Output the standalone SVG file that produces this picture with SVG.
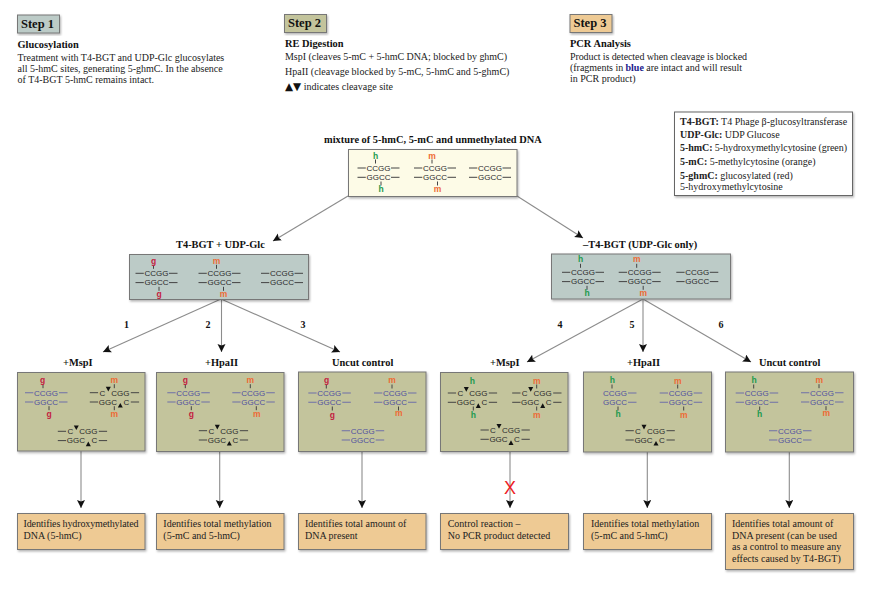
<svg xmlns="http://www.w3.org/2000/svg" width="875" height="593" viewBox="0 0 875 593">
<style>
text{font-family:"Liberation Serif","Times New Roman",serif;fill:#222}
.b{font-weight:bold}
.t{font-size:10px}
.h{font-size:10.400px;font-weight:bold;fill:#111}
.st{font-size:12.500px;font-weight:bold;fill:#111}
.n{font-size:10px;font-weight:bold;text-anchor:middle;fill:#111}
.box{stroke:#777;stroke-width:1;filter:url(#sh)}
.teal{fill:#bccbc7}.ol{fill:#c3c49c}.or{fill:#eeca94}.cr{fill:#fdfbe7}
.sq{font-family:"Liberation Sans",Arial,sans-serif;font-size:8px;fill:#2a2a2a;text-anchor:middle}
.sb{font-family:"Liberation Sans",Arial,sans-serif;font-size:8px;fill:#5050a0;text-anchor:middle}
.md{font-family:"Liberation Sans",Arial,sans-serif;font-size:8.500px;font-weight:bold;text-anchor:middle}
.gn{fill:#1d9a4e}.om{fill:#ee6a33}.rd{fill:#c4203f}
.ln{stroke:#444;stroke-width:1;fill:none}
.lb{stroke:#6f6fa8;stroke-width:1.100;fill:none}
.c{stroke:#8c8c8c;stroke-width:1.100;fill:none;marker-end:url(#ah)}
</style>
<defs>
<filter id="sh" x="-5%" y="-10%" width="112%" height="125%"><feDropShadow dx="1" dy="1.500" stdDeviation="1.200" flood-color="#000" flood-opacity=".3"/></filter>
<marker id="ah" markerUnits="userSpaceOnUse" markerWidth="9" markerHeight="9" refX="8" refY="4" orient="auto"><path d="M0 0L8 4L0 8L1.500 4z" fill="#111"/></marker>
<polygon id="dn" points="-2.500,-2.400 2.500,-2.400 0,2.200" fill="#111"/>
<polygon id="up" points="-2.500,2.400 2.500,2.400 0,-2.200" fill="#111"/>
</defs>

<g id="connectors">
<path class="c" d="M348 196L273 241"/>
<path class="c" d="M517 196L583 238"/>
<path class="c" d="M221 299L103 352"/>
<path class="c" d="M221.500 299V352"/>
<path class="c" d="M221 299L340 352"/>
<path class="c" d="M643 299L527 362"/>
<path class="c" d="M643 299V352"/>
<path class="c" d="M643 299L751 362"/>
<path class="c" d="M81 451V508"/>
<path class="c" d="M219.700 452V508"/>
<path class="c" d="M362 452V508"/>
<path class="c" d="M510 452V508"/>
<path class="c" d="M647.300 452V508"/>
<path class="c" d="M789.300 452V508"/>
</g>

<g id="step1"><rect class="box teal" x="17.500" y="15" width="42" height="18"/><text class="st" x="21" y="27.500">Step 1</text>
<text class="h" x="17.500" y="47.500">Glucosylation</text>
<text class="t" x="17.500" y="61">Treatment with T4-BGT and UDP-Glc glucosylates</text>
<text class="t" x="17.500" y="72">all 5-hmC sites, generating 5-ghmC. In the absence</text>
<text class="t" x="17.500" y="83">of  T4-BGT 5-hmC remains intact.</text></g>

<g id="step2"><rect class="box ol" x="284.500" y="14.500" width="42" height="18"/><text class="st" x="288" y="27">Step 2</text>
<text class="h" x="285" y="47">RE Digestion</text>
<text class="t" x="285" y="60" textLength="222">MspI (cleaves 5-mC + 5-hmC DNA; blocked by ghmC)</text>
<text class="t" x="285" y="75">HpaII (cleavage blocked by 5-mC, 5-hmC and 5-ghmC)</text>
<text class="t" x="285" y="90"><tspan font-family="'DejaVu Sans',sans-serif" font-size="10.500px" fill="#111">▲▼</tspan> indicates cleavage site</text></g>

<g id="step3"><rect class="box or" x="570" y="14.500" width="42" height="18"/><text class="st" x="573.500" y="27">Step 3</text>
<text class="h" x="570" y="47">PCR Analysis</text>
<text class="t" x="570" y="60" textLength="177">Product is detected when cleavage is blocked</text>
<text class="t" x="570" y="71" textLength="172">(fragments in <tspan font-weight="bold" fill="#1a1a8c">blue</tspan> are intact and will result</text>
<text class="t" x="570" y="82">in PCR product)</text></g>

<g id="legend"><rect x="674.500" y="112" width="178" height="83.500" fill="#fff" stroke="#666" stroke-width="1" filter="url(#sh)"/>
<text class="t" x="680" y="125"><tspan class="b">T4-BGT:</tspan> T4 Phage β-glucosyltransferase</text>
<text class="t" x="680" y="138"><tspan class="b">UDP-Glc:</tspan> UDP Glucose</text>
<text class="t" x="680" y="151" textLength="167"><tspan class="b">5-hmC:</tspan> 5-hydroxymethylcytosine (green)</text>
<text class="t" x="680" y="165"><tspan class="b">5-mC:</tspan> 5-methylcytosine (orange)</text>
<text class="t" x="680" y="179"><tspan class="b">5-ghmC:</tspan> glucosylated (red)</text>
<text class="t" x="680" y="190">5-hydroxymethylcytosine</text></g>

<g id="mixture"><text class="h" x="324" y="142.500">mixture of 5-hmC, 5-mC and unmethylated DNA</text>
<rect class="box cr" x="348.500" y="149.500" width="168.500" height="47"/>
<g transform="translate(378.500,168)"><path class="ln" d="M-21 0h8.300M12.500 0h8.500M-21 9.300h8.300M12.500 9.300h8.500M-3 -8.500v4M2.500 13.500v4"/><text class="sq" y="2.800">CCGG</text><text class="sq" y="12.100">GGCC</text><text class="md gn" x="-3" y="-9.500">h</text><text class="md gn" x="2.500" y="24">h</text></g>
<g transform="translate(435,168)"><path class="ln" d="M-21 0h8.300M12.500 0h8.500M-21 9.300h8.300M12.500 9.300h8.500M-3 -8.500v4M2.500 13.500v4"/><text class="sq" y="2.800">CCGG</text><text class="sq" y="12.100">GGCC</text><text class="md om" x="-3" y="-9.500">m</text><text class="md om" x="2.500" y="24">m</text></g>
<g transform="translate(490,168)"><path class="ln" d="M-21 0h8.300M12.500 0h8.500M-21 9.300h8.300M12.500 9.300h8.500"/><text class="sq" y="2.800">CCGG</text><text class="sq" y="12.100">GGCC</text></g></g>

<g id="teal-left"><text class="h" x="176" y="248">T4-BGT + UDP-Glc</text>
<rect class="box teal" x="129.500" y="254.500" width="179" height="45"/>
<g transform="translate(156.500,273.300)"><path class="ln" d="M-21 0h8.300M12.500 0h8.500M-21 9.300h8.300M12.500 9.300h8.500M-3 -8.500v4M2.500 13.500v4"/><text class="sq" y="2.800">CCGG</text><text class="sq" y="12.100">GGCC</text><text class="md rd" x="-3" y="-9.500">g</text><text class="md rd" x="2.500" y="24">g</text></g>
<g transform="translate(219.500,273.300)"><path class="ln" d="M-21 0h8.300M12.500 0h8.500M-21 9.300h8.300M12.500 9.300h8.500M-3 -8.500v4M4 13.500v4"/><text class="sq" y="2.800">CCGG</text><text class="sq" y="12.100">GGCC</text><text class="md om" x="-3" y="-9.500">m</text><text class="md om" x="4" y="24">m</text></g>
<g transform="translate(282,273.300)"><path class="ln" d="M-21 0h8.300M12.500 0h8.500M-21 9.300h8.300M12.500 9.300h8.500"/><text class="sq" y="2.800">CCGG</text><text class="sq" y="12.100">GGCC</text></g></g>

<g id="teal-right"><text class="h" x="583" y="248">–T4-BGT (UDP-Glc only)</text>
<rect class="box teal" x="551.500" y="254" width="179" height="45"/>
<g transform="translate(583,272.300)"><path class="ln" d="M-21 0h8.300M12.500 0h8.500M-21 9.300h8.300M12.500 9.300h8.500M-2.500 -8.500v4M4 13.500v4"/><text class="sq" y="2.800">CCGG</text><text class="sq" y="12.100">GGCC</text><text class="md gn" x="-2.500" y="-10">h</text><text class="md gn" x="4" y="24">h</text></g>
<g transform="translate(639.700,272.300)"><path class="ln" d="M-21 0h8.300M12.500 0h8.500M-21 9.300h8.300M12.500 9.300h8.500M-3 -8.500v4M3.500 13.500v4"/><text class="sq" y="2.800">CCGG</text><text class="sq" y="12.100">GGCC</text><text class="md om" x="-3" y="-10">m</text><text class="md om" x="3.500" y="24">m</text></g>
<g transform="translate(697.300,272.300)"><path class="ln" d="M-21 0h8.300M12.500 0h8.500M-21 9.300h8.300M12.500 9.300h8.500"/><text class="sq" y="2.800">CCGG</text><text class="sq" y="12.100">GGCC</text></g></g>

<g id="numbers"><text class="n" x="126.500" y="328">1</text><text class="n" x="208" y="328">2</text><text class="n" x="303" y="328">3</text><text class="n" x="560" y="328">4</text><text class="n" x="632" y="328">5</text><text class="n" x="721" y="328">6</text></g>

<g id="digest1"><text class="h" x="63" y="366">+MspI</text>
<rect class="box ol" x="17.500" y="372.500" width="127.500" height="78.500"/>
<g transform="translate(46,392.700)"><path class="lb" d="M-21 0h8.300M13 0h8.500M-21 9.300h8.300M13 9.300h8.500"/><path class="ln" d="M-3 -8.500v4M3 13.500v4"/><text class="sb" y="2.800">CCGG</text><text class="sb" y="12.100">GGCC</text><text class="md rd" x="-3.300" y="-9.500">g</text><text class="md rd" x="3" y="24">g</text></g>
<g transform="translate(114.300,392.700)"><path class="ln" d="M-24.500 0h8.300M16.500 0h8.300M-24.500 9.300h8.300M16.500 9.300h8.300M0 -8.500v4M0 13.500v4"/><text class="sq" x="-12" y="2.800">C</text><text class="sq" x="6" y="2.800">CGG</text><text class="sq" x="-6.500" y="12.100">GGC</text><text class="sq" x="12" y="12.100">C</text><use href="#dn" x="-6" y="-3.500"/><use href="#up" x="6" y="12.500"/><text class="md om" y="-9.500">m</text><text class="md om" y="24">m</text></g>
<g transform="translate(82.300,431.300)"><path class="ln" d="M-24.500 0h8.300M16.500 0h8.300M-24.500 9.300h8.300M16.500 9.300h8.300"/><text class="sq" x="-12" y="2.800">C</text><text class="sq" x="6" y="2.800">CGG</text><text class="sq" x="-6.500" y="12.100">GGC</text><text class="sq" x="12" y="12.100">C</text><use href="#dn" x="-6" y="-3.500"/><use href="#up" x="6" y="12.500"/></g></g>

<g id="digest2"><text class="h" x="205" y="366">+HpaII</text>
<rect class="box ol" x="156.500" y="372.500" width="127.500" height="79"/>
<g transform="translate(188.300,392.700)"><path class="lb" d="M-21 0h8.300M13 0h8.500M-21 9.300h8.300M13 9.300h8.500"/><path class="ln" d="M-3 -8.500v4M3 13.500v4"/><text class="sb" y="2.800">CCGG</text><text class="sb" y="12.100">GGCC</text><text class="md rd" x="-3" y="-9.500">g</text><text class="md rd" x="3" y="24">g</text></g>
<g transform="translate(253.300,392.700)"><path class="lb" d="M-21 0h8.300M13 0h8.500M-21 9.300h8.300M13 9.300h8.500"/><path class="ln" d="M-3 -8.500v4M3 13.500v4"/><text class="sb" y="2.800">CCGG</text><text class="sb" y="12.100">GGCC</text><text class="md om" x="-3" y="-9.500">m</text><text class="md om" x="3.400" y="24">m</text></g>
<g transform="translate(223.300,430.700)"><path class="ln" d="M-24.500 0h8.300M16.500 0h8.300M-24.500 9.300h8.300M16.500 9.300h8.300"/><text class="sq" x="-12" y="2.800">C</text><text class="sq" x="6" y="2.800">CGG</text><text class="sq" x="-6.500" y="12.100">GGC</text><text class="sq" x="12" y="12.100">C</text><use href="#dn" x="-6" y="-3.500"/><use href="#up" x="6" y="12.500"/></g></g>

<g id="digest3"><text class="h" x="332" y="366">Uncut control</text>
<rect class="box ol" x="298.500" y="372" width="127.500" height="79.500"/>
<g transform="translate(329.300,393)"><path class="lb" d="M-21 0h8.300M13 0h8.500M-21 9.300h8.300M13 9.300h8.500"/><path class="ln" d="M-3 -8.500v4M3 13.500v4"/><text class="sb" y="2.800">CCGG</text><text class="sb" y="12.100">GGCC</text><text class="md rd" x="-2.700" y="-10">g</text><text class="md rd" x="3" y="24.500">g</text></g>
<g transform="translate(395,393)"><path class="lb" d="M-21 0h8.300M13 0h8.500M-21 9.300h8.300M13 9.300h8.500"/><path class="ln" d="M-3 -8.500v4M3.500 13.500v4"/><text class="sb" y="2.800">CCGG</text><text class="sb" y="12.100">GGCC</text><text class="md om" x="-3" y="-10">m</text><text class="md om" x="3.700" y="23">m</text></g>
<g transform="translate(362.700,430.700)"><path class="lb" d="M-21 0h8.300M13 0h8.500M-21 9.300h8.300M13 9.300h8.500"/><text class="sb" y="2.800">CCGG</text><text class="sb" y="12.100">GGCC</text></g></g>

<g id="digest4"><text class="h" x="490" y="366">+MspI</text>
<rect class="box ol" x="440.500" y="372.500" width="127.500" height="79"/>
<g transform="translate(472.300,393)"><path class="ln" d="M-24.500 0h8.300M16.500 0h8.300M-24.500 9.300h8.300M16.500 9.300h8.300M1 13.500v4"/><text class="sq" x="-12" y="2.800">C</text><text class="sq" x="6" y="2.800">CGG</text><text class="sq" x="-6.500" y="12.100">GGC</text><text class="sq" x="12" y="12.100">C</text><use href="#dn" x="-6" y="-3.500"/><use href="#up" x="6" y="12.500"/><text class="md gn" y="-9.500">h</text><text class="md gn" x="1" y="24.500">h</text></g>
<g transform="translate(536.700,393)"><path class="ln" d="M-24.500 0h8.300M16.500 0h8.300M-24.500 9.300h8.300M16.500 9.300h8.300M0 -8.500v4M0 13.500v4"/><text class="sq" x="-12" y="2.800">C</text><text class="sq" x="6" y="2.800">CGG</text><text class="sq" x="-6.500" y="12.100">GGC</text><text class="sq" x="12" y="12.100">C</text><use href="#dn" x="-6" y="-3.500"/><use href="#up" x="6" y="12.500"/><text class="md om" y="-9.500">m</text><text class="md om" y="24.500">m</text></g>
<g transform="translate(505,430)"><path class="ln" d="M-24.500 0h8.300M16.500 0h8.300M-24.500 9.300h8.300M16.500 9.300h8.300"/><text class="sq" x="-12" y="2.800">C</text><text class="sq" x="6" y="2.800">CGG</text><text class="sq" x="-6.500" y="12.100">GGC</text><text class="sq" x="12" y="12.100">C</text><use href="#dn" x="-6" y="-3.500"/><use href="#up" x="6" y="12.500"/></g></g>

<g id="digest5"><text class="h" x="627" y="366">+HpaII</text>
<rect class="box ol" x="583.500" y="372" width="128" height="80"/>
<g transform="translate(615,393)"><path class="lb" d="M13 0h8.500M13 9.300h8.500"/><path class="ln" d="M-3 -8.500v4M3 13.500v4"/><text class="sb" y="2.800">CCGG</text><text class="sb" y="12.100">GGCC</text><text class="md gn" x="-2.700" y="-10">h</text><text class="md gn" x="3" y="24">h</text></g>
<g transform="translate(680.700,393)"><path class="lb" d="M-21 0h8.300M13 0h8.500M-21 9.300h8.300M13 9.300h8.500"/><path class="ln" d="M-3 -8.500v4M3 13.500v4"/><text class="sb" y="2.800">CCGG</text><text class="sb" y="12.100">GGCC</text><text class="md om" x="-3" y="-9.500">m</text><text class="md om" x="3" y="24.500">m</text></g>
<g transform="translate(650,430.700)"><path class="ln" d="M-24.500 0h8.300M16.500 0h8.300M-24.500 9.300h8.300M16.500 9.300h8.300"/><text class="sq" x="-12" y="2.800">C</text><text class="sq" x="6" y="2.800">CGG</text><text class="sq" x="-6.500" y="12.100">GGC</text><text class="sq" x="12" y="12.100">C</text><use href="#dn" x="-6" y="-3.500"/><use href="#up" x="6" y="12.500"/></g></g>

<g id="digest6"><text class="h" x="759" y="366">Uncut control</text>
<rect class="box ol" x="725.500" y="372" width="128" height="80"/>
<g transform="translate(756.700,393)"><path class="lb" d="M-21 0h8.300M13 0h8.500M-21 9.300h8.300M13 9.300h8.500"/><path class="ln" d="M-3 -8.500v4M3 13.500v4"/><text class="sb" y="2.800">CCGG</text><text class="sb" y="12.100">GGCC</text><text class="md gn" x="-2.700" y="-10">h</text><text class="md gn" x="3" y="24">h</text></g>
<g transform="translate(822,392.700)"><path class="lb" d="M-21 0h8.300M13 0h8.500M-21 9.300h8.300M13 9.300h8.500"/><path class="ln" d="M-3 -8.500v4M4 13.500v4"/><text class="sb" y="2.800">CCGG</text><text class="sb" y="12.100">GGCC</text><text class="md om" x="-2.700" y="-10">m</text><text class="md om" x="4.300" y="23">m</text></g>
<g transform="translate(790,430.700)"><path class="lb" d="M-21 0h8.300M13 0h8.500M-21 9.300h8.300M13 9.300h8.500"/><text class="sb" y="2.800">CCGG</text><text class="sb" y="12.100">GGCC</text></g></g>

<text id="block" x="510" y="494" font-size="18" text-anchor="middle" style="font-family:'Liberation Sans',Arial,sans-serif;fill:#ee1c25">X</text>

<g id="result1"><rect class="box or" x="17.500" y="513.500" width="127.500" height="36"/><text class="t" x="23.500" y="527" textLength="115">Identifies hydroxymethylated</text><text class="t" x="23.500" y="539">DNA (5-hmC)</text></g>
<g id="result2"><rect class="box or" x="156.500" y="513.500" width="127.500" height="36"/><text class="t" x="163.300" y="527">Identifies total methylation</text><text class="t" x="163.300" y="539">(5-mC and 5-hmC)</text></g>
<g id="result3"><rect class="box or" x="298.500" y="513.500" width="127.500" height="36"/><text class="t" x="305" y="527">Identifies total amount of</text><text class="t" x="305" y="539">DNA present</text></g>
<g id="result4"><rect class="box or" x="440.500" y="513.500" width="128" height="36"/><text class="t" x="447.700" y="527">Control reaction –</text><text class="t" x="447.700" y="539">No PCR product detected</text></g>
<g id="result5"><rect class="box or" x="583.500" y="513.500" width="128" height="36"/><text class="t" x="591" y="527">Identifies total methylation</text><text class="t" x="591" y="539">(5-mC and 5-hmC)</text></g>
<g id="result6"><rect class="box or" x="725.500" y="513.500" width="128" height="56"/><text class="t" x="732" y="527">Identifies total amount of</text><text class="t" x="732" y="539">DNA present (can be used</text><text class="t" x="732" y="550">as a control to measure any</text><text class="t" x="732" y="561.500">effects caused by T4-BGT)</text></g>
</svg>
